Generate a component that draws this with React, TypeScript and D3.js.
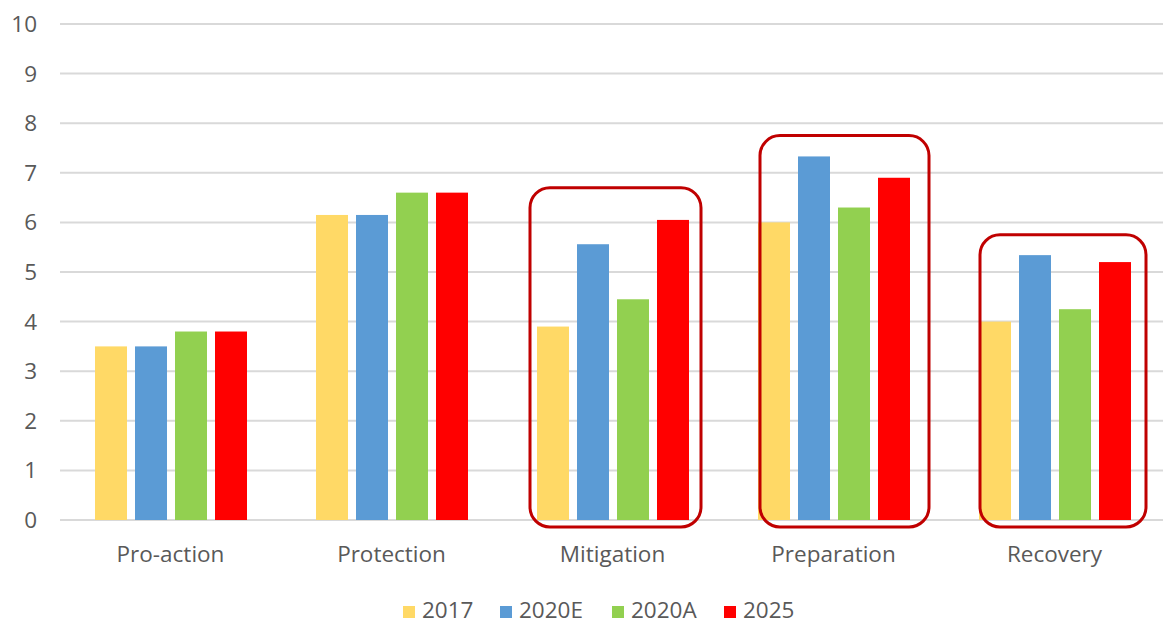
import React from "react";
import * as d3 from "d3";

const categories = ["Pro-action", "Protection", "Mitigation", "Preparation", "Recovery"];
const seriesNames = ["2017", "2020E", "2020A", "2025"];
const values2017 = [3.5, 6.15, 3.9, 6.0, 4.0];
const values2020E = [3.5, 6.15, 5.56, 7.33, 5.34];
const values2020A = [3.8, 6.6, 4.45, 6.3, 4.25];
const values2025 = [3.8, 6.6, 6.05, 6.9, 5.2];
const yTicks = [0, 1, 2, 3, 4, 5, 6, 7, 8, 9, 10];

// Highlighted category groups: top edge in value units, horizontal extent from the band start
const highlightCategories = ["Mitigation", "Preparation", "Recovery"];
const highlightTops = [6.7, 7.75, 5.75];
const highlightLeft = [28, 37, 36];
const highlightRight = [199, 206, 202];

const colors = ["#FFD966", "#5B9BD5", "#92D050", "#FF0000"];

const W = 1163;
const H = 624;
const left = 60;
const right = 1165;
const y0 = 520;
const yTop = 24;
const font = "'Open Sans', 'Noto Sans', sans-serif";
const textColor = "#595959";
const fontSize = 22.5;

export default function App() {
  const seriesValues = [values2017, values2020E, values2020A, values2025];
  const x = d3.scaleBand<string>().domain(categories).range([left, right]);
  const xs = d3
    .scaleBand<string>()
    .domain(seriesNames)
    .range([35, x.bandwidth() - 34])
    .paddingInner(0.2)
    .paddingOuter(0);
  const y = d3.scaleLinear().domain([0, 10]).range([y0, yTop]);

  const legendX = [403, 500, 612, 724];

  return (
    <svg
      width={W}
      height={H}
      style={{ position: "absolute", left: 0, top: 0, background: "#fff" }}
      fontFamily={font}
    >
      <rect width={W} height={H} fill="#fff" />
      {yTicks.map((t) => (
        <g key={t}>
          <line x1={left} x2={W} y1={y(t)} y2={y(t)} stroke="#D9D9D9" strokeWidth={2} />
          <text
            x={37}
            y={y(t) + 8}
            textAnchor="end"
            fontSize={fontSize}
            fill={textColor}
          >
            {t}
          </text>
        </g>
      ))}
      {categories.map((c, ci) => (
        <g key={c}>
          {seriesNames.map((s, si) => {
            const v = seriesValues[si][ci];
            const bx = (x(c) ?? 0) + (xs(s) ?? 0);
            return (
              <rect
                key={s}
                x={bx}
                y={y(v)}
                width={xs.bandwidth()}
                height={y0 - y(v)}
                fill={colors[si]}
              />
            );
          })}
          <text
            x={(x(c) ?? 0) + x.bandwidth() / 2}
            y={562}
            textAnchor="middle"
            fontSize={fontSize}
            fill={textColor}
          >
            {c}
          </text>
        </g>
      ))}
      {highlightCategories.map((c, i) => {
        const bx = (x(c) ?? 0) + highlightLeft[i];
        const bw = highlightRight[i] - highlightLeft[i];
        const top = y(highlightTops[i]);
        return (
          <rect
            key={c}
            x={bx}
            y={top}
            width={bw}
            height={527 - top}
            rx={20}
            ry={20}
            fill="none"
            stroke="#C00000"
            strokeWidth={3}
          />
        );
      })}
      {seriesNames.map((s, i) => (
        <g key={s}>
          <rect x={legendX[i]} y={606} width={12} height={12} fill={colors[i]} />
          <text x={legendX[i] + 19} y={618} fontSize={fontSize} fill={textColor}>
            {s}
          </text>
        </g>
      ))}
    </svg>
  );
}
